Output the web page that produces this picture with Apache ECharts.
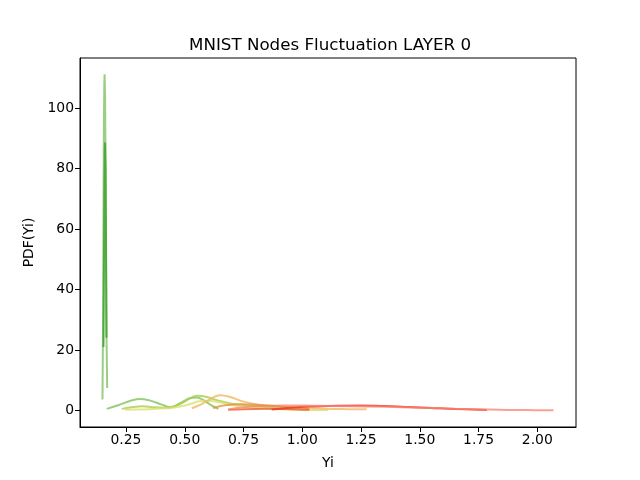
<!DOCTYPE html>
<html>
<head>
<meta charset="utf-8">
<script src="https://cdn.jsdelivr.net/npm/echarts@6/dist/echarts.min.js"></script>
<style>html,body{margin:0;padding:0;background:#fff}#c{width:640px;height:480px}</style>
</head>
<body>
<div id="c"></div>
<script>
// ---- data ----
const xTicks = [0.25, 0.5, 0.75, 1.0, 1.25, 1.5, 1.75, 2.0];
const yTicks = [0, 20, 40, 60, 80, 100];

const spikeLight = [[0.150,3.6],[0.152,25],[0.154,60],[0.156,95],[0.158,109],[0.159,111.2],[0.161,104],[0.163,80],[0.165,50],[0.167,25],[0.170,7.4]];
const spikeDark  = [[0.154,21],[0.156,45],[0.158,72],[0.160,87],[0.161,88.6],[0.163,80],[0.165,55],[0.167,24]];
const curveA = [[0.168,0.5],[0.22,1.8],[0.27,3.2],[0.31,3.8],[0.35,3.3],[0.40,2.0],[0.44,1.0],[0.48,2.4],[0.52,4.0],[0.55,4.3],[0.58,3.4],[0.61,1.8],[0.643,0.5]];
const curveB = [[0.232,0.5],[0.28,1.1],[0.32,1.4],[0.37,1.0],[0.42,0.9],[0.47,1.7],[0.51,3.4],[0.55,4.8],[0.59,4.5],[0.64,3.3],[0.69,2.4],[0.75,1.8],[0.82,1.2],[0.90,0.8],[0.96,0.4]];
const curveC = [[0.246,0.2],[0.30,0.3],[0.35,0.4],[0.40,0.6],[0.45,0.9],[0.51,1.8],[0.56,3.0],[0.60,3.2],[0.65,2.6],[0.70,1.8],[0.78,1.0],[0.88,0.5],[0.97,0.2],[1.109,0.1]];
const curveD = [[0.53,0.7],[0.57,2.0],[0.61,3.8],[0.65,5.0],[0.69,4.5],[0.75,2.9],[0.82,1.8],[0.90,1.2],[1.00,0.8],[1.10,0.5],[1.20,0.4],[1.274,0.35]];
const curveE = [[0.62,0.8],[0.68,1.8],[0.75,2.0],[0.85,1.6],[0.95,1.0],[1.03,0.4]];
const curveH = [[0.685,0.2],[0.75,0.4],[0.85,0.5],[0.95,0.4],[1.03,0.2]];
const curveF = [[0.87,0.3],[0.95,0.9],[1.05,1.3],[1.15,1.55],[1.25,1.6],[1.35,1.45],[1.45,1.15],[1.55,0.8],[1.65,0.45],[1.785,0.15]];
const curveG = [[0.685,0.3],[0.75,1.0],[0.85,1.5],[0.95,1.6],[1.05,1.55],[1.20,1.4],[1.35,1.2],[1.50,0.9],[1.65,0.5],[1.80,0.25],[1.95,0.1],[2.069,0.05]];

const seriesData = [spikeLight, spikeDark, curveA, curveB, curveC, curveD, curveE, curveH, curveF, curveG];
const seriesColors = ['rgba(120,190,90,0.75)','rgba(70,165,55,0.9)','rgba(130,195,95,0.8)','rgba(170,205,75,0.8)',
  'rgba(220,225,110,0.8)','rgba(240,185,100,0.8)','rgba(230,150,60,0.8)','rgba(235,105,60,0.85)',
  'rgba(240,60,45,0.85)','rgba(250,130,110,0.75)'];
const seriesSmooth = [false,false,0.4,0.4,0.4,0.4,0.4,0.4,0.4,0.4];

const font = 'DejaVu Sans';
const chart = echarts.init(document.getElementById('c'), null, {renderer:'canvas'});
chart.setOption({
  animation:false,
  title:{text:'MNIST Nodes Fluctuation LAYER 0',left:184,top:32,
    textStyle:{fontFamily:font,fontSize:16.7,fontWeight:'normal',color:'#000'}},
  grid:{left:80,right:64,top:58,bottom:53,show:true,borderColor:'#000',borderWidth:1,backgroundColor:'transparent'},
  xAxis:{type:'value',min:0.0543,max:2.1647,
    name:'Yi',nameLocation:'middle',nameGap:29,nameTextStyle:{fontFamily:font,fontSize:13.9,color:'#000'},
    axisLine:{show:true,onZero:false,lineStyle:{color:'#000',width:1}},
    axisTick:{show:true,length:5,customValues:xTicks,lineStyle:{color:'#000'}},
    axisLabel:{customValues:xTicks,fontFamily:font,fontSize:13.9,color:'#000',margin:6,formatter:v=>v.toFixed(2)},
    splitLine:{show:false}},
  yAxis:{type:'value',min:-5.5,max:116.6,
    name:'PDF(Yi)',nameLocation:'middle',nameGap:38,nameRotate:90,nameTextStyle:{fontFamily:font,fontSize:13.9,color:'#000'},
    axisLine:{show:true,onZero:false,lineStyle:{color:'#000',width:1}},
    axisTick:{show:true,length:5,customValues:yTicks,lineStyle:{color:'#000'}},
    axisLabel:{customValues:yTicks,fontFamily:font,fontSize:13.9,color:'#000',margin:6},
    splitLine:{show:false}},
  series: seriesData.map((d,i)=>({type:'line',data:d,showSymbol:false,smooth:seriesSmooth[i],
    lineStyle:{color:seriesColors[i],width:2},itemStyle:{color:seriesColors[i]}}))
});
</script>
</body>
</html>
